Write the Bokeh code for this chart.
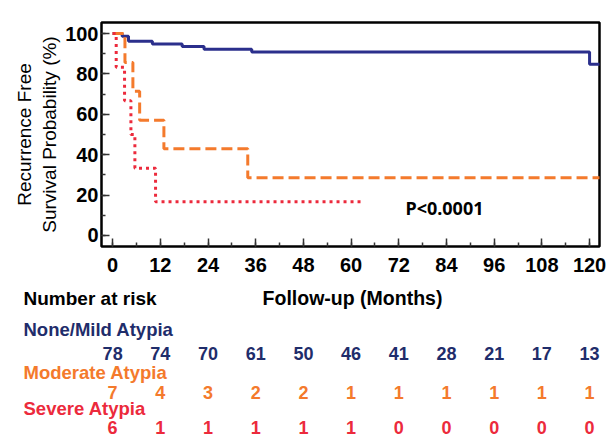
from bokeh.plotting import figure
from bokeh.models import Range1d, SingleIntervalTicker
from bokeh.embed import file_html
from bokeh.resources import INLINE
from bokeh.core.properties import value

# ---- data ----
risk_months = [0, 12, 24, 36, 48, 60, 72, 84, 96, 108, 120]
risk_none = [78, 74, 70, 61, 50, 46, 41, 28, 21, 17, 13]
risk_moderate = [7, 4, 3, 2, 2, 1, 1, 1, 1, 1, 1]
risk_severe = [6, 1, 1, 1, 1, 1, 0, 0, 0, 0, 0]

none_t = [0, 2.4, 4.0, 10.0, 17.5, 23.0, 35.0, 120.0, 124.0]
none_s = [100, 98.7, 96.2, 94.9, 93.6, 92.3, 90.9, 84.8, 84.8]
mod_t = [0, 3.1, 5.1, 6.8, 12.9, 34.0, 124.0]
mod_s = [100, 85.7, 71.4, 57.1, 42.9, 28.6, 28.6]
sev_t = [0, 0.9, 3.0, 4.6, 5.6, 10.8, 63.0]
sev_s = [100, 83.3, 66.7, 50.0, 33.3, 16.7, 16.7]

group_labels = ["None/Mild Atypia", "Moderate Atypia", "Severe Atypia"]
c_none, c_mod, c_sev = "#2b2f8c", "#f47a2c", "#ec2a3c"
c_none_txt = "#1f2d6b"

FONT = "Liberation Sans"
TICK_FONT = "Liberation Sans Narrow, Liberation Sans"

# ---- layout (pixels) ----
W = 614
TOP_H = 285
BOT_H = 154
L, R, T = 101, 15, 22
B = TOP_H - 246
x0, x1 = -2.8, 122.5
y0, y1 = -5.5, 105.5
ppx = (W - L - R) / (x1 - x0)


def x_at(page_x):
    return x0 + (page_x - L) / ppx


# ---- survival curves ----
p = figure(width=W, height=TOP_H, x_range=Range1d(x0, x1), y_range=Range1d(y0, y1),
           output_backend="svg", toolbar_location=None,
           min_border_left=L, min_border_right=R, min_border_top=T, min_border_bottom=B)
p.xgrid.visible = False
p.ygrid.visible = False
p.outline_line_color = "black"
p.outline_line_width = 2.5
p.outline_line_alpha = 1

p.xaxis.ticker = SingleIntervalTicker(interval=12, num_minor_ticks=2)
p.yaxis.ticker = SingleIntervalTicker(interval=20, num_minor_ticks=2)
for ax in (p.xaxis, p.yaxis):
    ax.axis_line_color = None
    ax.major_tick_in = 8
    ax.major_tick_out = 0
    ax.minor_tick_in = 4
    ax.minor_tick_out = 0
    ax.major_tick_line_color = "#333333"
    ax.minor_tick_line_color = "#333333"
    ax.major_tick_line_width = 1.5
    ax.minor_tick_line_width = 1.5
    ax.major_label_text_font = TICK_FONT
    ax.major_label_text_font_style = "bold"
    ax.major_label_text_font_size = "20px"
    ax.major_label_text_color = "black"
p.xaxis.major_label_standoff = 11
p.yaxis.major_label_standoff = 3

p.yaxis.axis_label = "Recurrence Free\nSurvival Probability (%)"
p.yaxis.axis_label_text_font = FONT
p.yaxis.axis_label_text_font_style = "normal"
p.yaxis.axis_label_text_font_size = "19px"
p.yaxis.axis_label_text_color = "black"
p.yaxis.axis_label_standoff = 2

p.step(none_t, none_s, mode="after", line_color=c_none, line_width=3)
p.step(mod_t, mod_s, mode="after", line_color=c_mod, line_width=3, line_dash="11 5")
p.step(sev_t, sev_s, mode="after", line_color=c_sev, line_width=3, line_dash="3 4")

p.text(x=[x_at(405)], y=[13.4], text=["P<0.0001"], text_font=value("Noto Sans"),
       text_font_style="bold", text_font_size="18px", text_align="left",
       text_baseline="middle", text_color="black")

# ---- x-axis title and number-at-risk table, on the same month scale ----
bx0 = x0 - L / ppx
bx1 = x1 + R / ppx
q = figure(width=W, height=BOT_H, x_range=Range1d(bx0, bx1), y_range=Range1d(BOT_H, 0),
           output_backend="svg", toolbar_location=None, min_border=0,
           min_border_left=0, min_border_right=0, min_border_top=0, min_border_bottom=0,
           x_axis_location=None, y_axis_location=None)
q.outline_line_color = None
q.xgrid.visible = False
q.ygrid.visible = False

left_x = x_at(23)


def txt(x, y, t, color, size, align):
    q.text(x=x, y=y, text=t, text_font=value(FONT), text_font_style="bold",
           text_font_size=size, text_align=align, text_baseline="middle",
           text_color=color)


# y values below are pixel rows inside this table strip
txt([x_at(352)], [12], ["Follow-up (Months)"], "black", "19.5px", "center")
txt([left_x], [13], ["Number at risk"], "black", "19px", "left")

rows = [(group_labels[0], risk_none, c_none_txt, 44, 68),
        (group_labels[1], risk_moderate, c_mod, 87, 107),
        (group_labels[2], risk_severe, c_sev, 123, 142)]
for label, vals, col, ly, ny in rows:
    txt([left_x], [ly], [label], col, "18.5px", "left")
    txt(risk_months, [ny] * len(risk_months), [str(v) for v in vals], col, "18px", "center")

open("out.html", "w").write(file_html([p, q], INLINE))
